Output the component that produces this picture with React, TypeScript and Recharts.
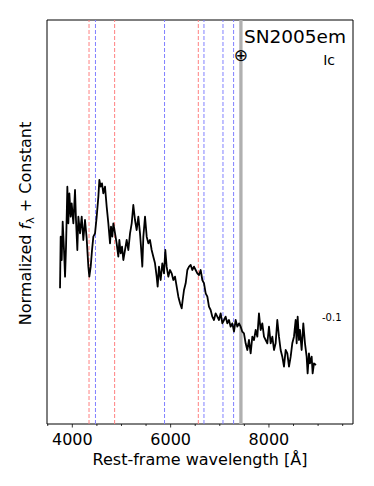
import React from 'react';
import { LineChart, Line, XAxis, YAxis, ReferenceLine, ReferenceArea, Label } from 'recharts';

const wavelengths = [3750,3763,3784,3804,3831,3852,3872,3899,3919,3940,3967,3987,4021,4055,4075,4102,4123,4157,4191,4224,4258,4292,4326,4346,4374,4401,4428,4462,4496,4530,4550,4577,4604,4631,4665,4699,4733,4767,4787,4814,4835,4869,4902,4936,4957,4984,5011,5038,5072,5106,5140,5174,5208,5241,5275,5309,5343,5377,5397,5424,5445,5479,5513,5547,5580,5614,5648,5682,5716,5736,5763,5797,5831,5865,5892,5919,5953,5987,6021,6055,6089,6123,6157,6191,6225,6245,6272,6306,6340,6374,6408,6441,6475,6509,6543,6577,6611,6645,6679,6713,6747,6780,6814,6848,6882,6916,6950,6984,7018,7052,7086,7119,7153,7187,7221,7255,7289,7323,7357,7391,7425,7458,7492,7526,7560,7594,7628,7662,7696,7730,7764,7797,7831,7865,7899,7933,7967,8001,8035,8069,8103,8136,8170,8204,8238,8272,8306,8340,8374,8408,8442,8475,8509,8543,8564,8584,8611,8631,8665,8699,8733,8767,8787,8814,8835,8869,8889,8916,8957];
const fluxValues = [0.407,0.562,0.492,0.607,0.522,0.442,0.532,0.712,0.602,0.692,0.622,0.662,0.602,0.702,0.612,0.522,0.622,0.572,0.622,0.552,0.612,0.557,0.472,0.442,0.472,0.522,0.562,0.572,0.622,0.682,0.732,0.712,0.722,0.692,0.712,0.652,0.602,0.542,0.592,0.562,0.602,0.572,0.542,0.502,0.552,0.512,0.532,0.492,0.522,0.552,0.522,0.572,0.602,0.657,0.612,0.582,0.622,0.572,0.532,0.472,0.562,0.622,0.562,0.542,0.552,0.522,0.502,0.482,0.442,0.412,0.472,0.432,0.482,0.452,0.522,0.472,0.442,0.462,0.452,0.432,0.442,0.412,0.382,0.362,0.347,0.372,0.402,0.422,0.462,0.472,0.477,0.462,0.472,0.462,0.452,0.447,0.462,0.432,0.422,0.392,0.382,0.352,0.342,0.322,0.312,0.332,0.322,0.312,0.332,0.302,0.312,0.322,0.302,0.312,0.292,0.302,0.277,0.312,0.292,0.302,0.292,0.277,0.272,0.242,0.222,0.252,0.212,0.262,0.252,0.282,0.262,0.332,0.282,0.302,0.262,0.252,0.242,0.292,0.242,0.262,0.222,0.242,0.312,0.262,0.222,0.202,0.172,0.222,0.212,0.172,0.202,0.242,0.262,0.312,0.242,0.322,0.252,0.282,0.222,0.302,0.242,0.202,0.152,0.212,0.182,0.202,0.152,0.182,0.177];

const redLines = [4340, 4861, 6563];
const blueLines = [4471, 5876, 6678, 7065, 7281];
const telluricLine = 7430;
const majorTicks = [4000, 6000, 8000];
const allTicks = [3500, 4000, 4500, 5000, 5500, 6000, 6500, 7000, 7500, 8000, 8500, 9000, 9500];
const xDomain = [3485, 9710];
const yDomain = [0, 1.212];
const objectName = 'SN2005em';
const snType = 'Ic';
const offsetLabel = '-0.1';

const data = wavelengths.map((wl, i) => ({ wl, flux: fluxValues[i] }));

const FONT = 'DejaVu Sans, sans-serif';

const XTick = (props: any) => {
  const { x, y, payload } = props;
  const major = majorTicks.includes(payload.value);
  return (
    <g>
      <line x1={x} x2={x} y1={y} y2={y + (major ? 3.5 : 2)} stroke="#000" strokeWidth={0.8} />
      {major && (
        <text x={x} y={y + 21} textAnchor="middle" fontSize={16} fontFamily={FONT} fill="#000">
          {payload.value}
        </text>
      )}
    </g>
  );
};

const FrameText = (props: any) => {
  const vb = props.viewBox || {};
  const x = vb.x, y = vb.y, w = vb.width;
  return (
    <g fontFamily={FONT} fill="#000">
      <text x={x + w - 7} y={y + 23.3} textAnchor="end" fontSize={18.5}>{objectName}</text>
      <text x={x + w - 18} y={y + 44.5} textAnchor="end" fontSize={14}>{snType}</text>
      <text x={x + 275} y={y + 300.6} textAnchor="start" fontSize={10}>{offsetLabel}</text>
    </g>
  );
};

const TelluricText = (props: any) => {
  const vb = props.viewBox || {};
  return (
    <text x={vb.x} y={vb.y + 40.5} textAnchor="middle" fontSize={17} fontFamily={FONT} fill="#000">⊕</text>
  );
};

const XLabel = (props: any) => {
  const vb = props.viewBox || {};
  return (
    <text x={vb.x + vb.width / 2} y={vb.y + 41} textAnchor="middle" fontSize={16} fontFamily={FONT} fill="#000">
      Rest-frame wavelength [Å]
    </text>
  );
};

const YLabel = () => {
  const cx = 30.7, cy = 223.5;
  return (
    <text x={cx} y={cy} transform={`rotate(-90, ${cx}, ${cy})`} textAnchor="middle" fontSize={16} fontFamily={FONT} fill="#000">
      Normalized <tspan fontStyle="italic">f</tspan><tspan dy={3.5} fontSize={11}>λ</tspan><tspan dy={-3.5}> + Constant</tspan>
    </text>
  );
};

export default function App() {
  return (
    <div style={{ position: 'absolute', left: 0, top: 0, width: 374, height: 486, background: '#fff' }}>
      <LineChart width={374} height={486} data={data} margin={{ top: 20, right: 21, left: 0, bottom: 17 }}>
        <XAxis
          dataKey="wl"
          type="number"
          domain={xDomain}
          allowDataOverflow
          ticks={allTicks}
          interval={0}
          tickLine={false}
          axisLine={false}
          tickSize={0}
          tickMargin={0}
          tick={(p: any) => <XTick {...p} />}
          height={45}
        >
          <Label content={(p: any) => <XLabel {...p} />} />
        </XAxis>
        <YAxis type="number" domain={yDomain} allowDataOverflow tick={false} tickLine={false} axisLine={false} width={47}>
          <Label content={() => <YLabel />} />
        </YAxis>
        {redLines.map((v) => (
          <ReferenceLine key={'r' + v} x={v} stroke="#ff8080" strokeWidth={1} strokeDasharray="4 2" />
        ))}
        {blueLines.map((v) => (
          <ReferenceLine key={'b' + v} x={v} stroke="#8080ff" strokeWidth={1} strokeDasharray="4 2" />
        ))}
        <ReferenceLine x={telluricLine} stroke="#b0b0b0" strokeWidth={3.3}>
          <Label content={(p: any) => <TelluricText {...p} />} />
        </ReferenceLine>
        <Line type="linear" dataKey="flux" stroke="#000" strokeWidth={1.8} strokeLinejoin="round" dot={false} isAnimationActive={false} />
        <ReferenceArea x1={xDomain[0]} x2={xDomain[1]} y1={yDomain[0]} y2={yDomain[1]} fill="none" stroke="#000" strokeWidth={1} fillOpacity={0}>
          <Label content={(p: any) => <FrameText {...p} />} />
        </ReferenceArea>
      </LineChart>
    </div>
  );
}
